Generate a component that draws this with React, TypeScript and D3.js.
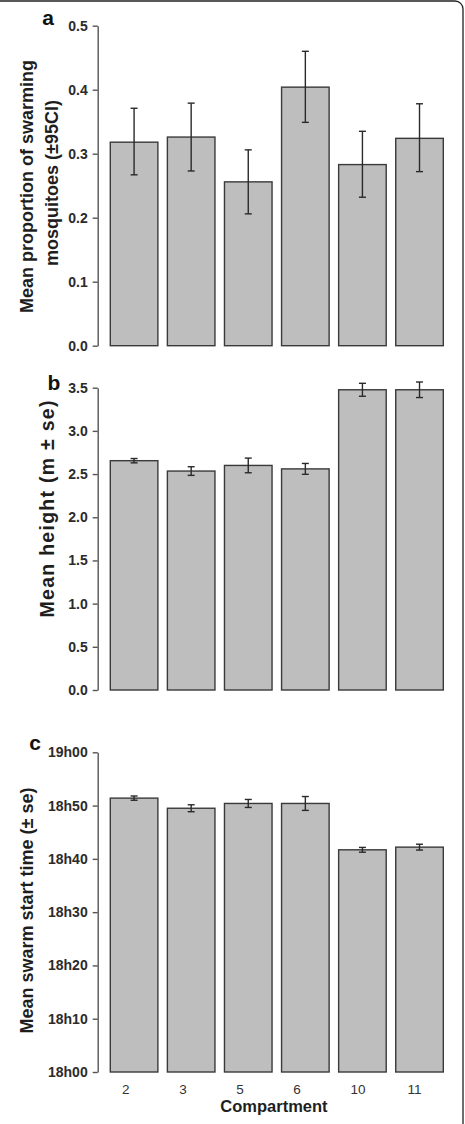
import React, { useEffect, useRef } from "react";
import * as d3 from "d3";

// compartments on the x axis
const compartments = ["2", "3", "5", "6", "10", "11"];

// a: proportion swarming, with 95% CI bounds
const propMean = [0.318, 0.326, 0.256, 0.404, 0.283, 0.324];
const propLow = [0.267, 0.273, 0.206, 0.349, 0.232, 0.272];
const propHigh = [0.371, 0.379, 0.306, 0.46, 0.335, 0.378];
const propTicks = [0, 0.1, 0.2, 0.3, 0.4, 0.5];

// b: swarm height (m), mean and standard error
const heightMean = [2.655, 2.535, 2.6, 2.56, 3.476, 3.476];
const heightSe = [0.025, 0.05, 0.085, 0.063, 0.075, 0.09];
const heightTicks = [0, 0.5, 1, 1.5, 2, 2.5, 3, 3.5];

// c: start time, in minutes after 18h00, and standard error
const startMean = [51.4, 49.5, 50.4, 50.4, 41.7, 42.2];
const startSe = [0.4, 0.65, 0.75, 1.3, 0.45, 0.55];
const startTicks = [0, 10, 20, 30, 40, 50, 60];
const startTickLabels = ["18h00", "18h10", "18h20", "18h30", "18h40", "18h50", "19h00"];

const FONT = "'Liberation Sans', Arial, Helvetica, sans-serif";

const App = () => {
  const svgRef = useRef<SVGSVGElement | null>(null);

  useEffect(() => {
    const svg = d3.select(svgRef.current);
    svg.selectAll("*").remove();

    const axisX = 97.7;
    const x = d3
      .scaleBand<string>()
      .domain(compartments)
      .range([110.3, 443.3])
      .paddingInner(1 / 6)
      .paddingOuter(0);

    // outer frame, open on the left and bottom
    svg
      .append("rect")
      .attr("x", -20)
      .attr("y", 1)
      .attr("width", 483)
      .attr("height", 1160)
      .attr("rx", 8)
      .attr("fill", "none")
      .attr("stroke", "#222")
      .attr("stroke-width", 1.3);

    const panels = [
      {
        letter: "a",
        letterPos: [48, 25],
        domain: [0, 0.5],
        range: [345.7, 25.7],
        ticks: propTicks,
        fmt: (d: number) => d3.format(".1f")(d),
        mean: propMean,
        lo: propLow,
        hi: propHigh,
        title: ["Mean proportion of swarming", "mosquitoes (\u00b195CI)"],
        titleX: [33.3, 57.5],
        titleY: [186.5, 183],
        titleSize: 18,
        titleLen: 0,
      },
      {
        letter: "b",
        letterPos: [54, 390],
        domain: [0, 3.5],
        range: [690, 387.7],
        ticks: heightTicks,
        fmt: (d: number) => d3.format(".1f")(d),
        mean: heightMean,
        lo: heightMean.map((m, i) => m - heightSe[i]),
        hi: heightMean.map((m, i) => m + heightSe[i]),
        title: ["Mean height (m \u00b1 se)"],
        titleX: [53.5],
        titleY: [509],
        titleSize: 19.5,
        titleLen: 217,
      },
      {
        letter: "c",
        letterPos: [35, 750],
        domain: [0, 60],
        range: [1072, 752.3],
        ticks: startTicks,
        fmt: (d: number) => startTickLabels[startTicks.indexOf(d)],
        mean: startMean,
        lo: startMean.map((m, i) => m - startSe[i]),
        hi: startMean.map((m, i) => m + startSe[i]),
        title: ["Mean swarm start time (\u00b1 se)"],
        titleX: [33.3],
        titleY: [910.5],
        titleSize: 18,
        titleLen: 0,
      },
    ];

    panels.forEach((p) => {
      const y = d3.scaleLinear().domain(p.domain).range(p.range);
      const g = svg.append("g");

      // bars
      g.selectAll(".bar")
        .data(p.mean)
        .join("rect")
        .attr("x", (_, i) => x(compartments[i])!)
        .attr("y", (d) => y(d))
        .attr("width", x.bandwidth())
        .attr("height", (d) => y(0) - y(d))
        .attr("fill", "#bebebe")
        .attr("stroke", "#3a3a3a")
        .attr("stroke-width", 1.4);

      // error bars
      const cap = 3.5;
      const eb = g
        .selectAll(".err")
        .data(p.mean)
        .join("g")
        .attr("stroke", "#2a2a2a")
        .attr("stroke-width", 1.4);
      eb.append("line")
        .attr("x1", (_, i) => x(compartments[i])! + x.bandwidth() / 2)
        .attr("x2", (_, i) => x(compartments[i])! + x.bandwidth() / 2)
        .attr("y1", (_, i) => y(p.lo[i]))
        .attr("y2", (_, i) => y(p.hi[i]));
      [p.lo, p.hi].forEach((arr) => {
        eb.append("line")
          .attr("x1", (_, i) => x(compartments[i])! + x.bandwidth() / 2 - cap)
          .attr("x2", (_, i) => x(compartments[i])! + x.bandwidth() / 2 + cap)
          .attr("y1", (_, i) => y(arr[i]))
          .attr("y2", (_, i) => y(arr[i]));
      });

      // y axis
      const yAxis = d3
        .axisLeft(y)
        .tickValues(p.ticks)
        .tickFormat((d) => p.fmt(d as number))
        .tickSize(5)
        .tickSizeOuter(0)
        .tickPadding(5);
      const ag = g.append("g").attr("transform", `translate(${axisX},0)`).call(yAxis);
      ag.select(".domain").attr("stroke", "#555").attr("stroke-width", 1.4);
      ag.selectAll(".tick line").attr("stroke", "#555").attr("stroke-width", 1.4);
      ag.selectAll(".tick text")
        .attr("fill", "#2b2b2b")
        .style("font-family", FONT)
        .style("font-size", "14px")
        .style("font-weight", "bold");

      // y title
      p.title.forEach((t, i) => {
        const tt = g
          .append("text")
          .attr("transform", `translate(${p.titleX[i]},${p.titleY[i]}) rotate(-90)`)
          .attr("text-anchor", "middle")
          .attr("fill", "#1e1e1e")
          .style("font-family", FONT)
          .style("font-size", `${p.titleSize}px`)
          .style("font-weight", "bold")
          .text(t);
        if (p.titleLen) tt.attr("textLength", p.titleLen).attr("lengthAdjust", "spacing");
      });

      // panel letter
      g.append("text")
        .attr("x", p.letterPos[0])
        .attr("y", p.letterPos[1])
        .attr("text-anchor", "middle")
        .attr("fill", "#111")
        .style("font-family", FONT)
        .style("font-size", "21px")
        .style("font-weight", "bold")
        .text(p.letter);
    });

    // x tick labels under the last panel
    svg
      .selectAll(".xlab")
      .data(compartments)
      .join("text")
      .attr("x", (d) => x(d)! + x.bandwidth() / 2 - 12)
      .attr("y", 1093.5)
      .attr("text-anchor", "start")
      .attr("fill", "#333")
      .style("font-family", FONT)
      .style("font-size", "13.5px")
      .text((d) => d);

    svg
      .append("text")
      .attr("x", 274)
      .attr("y", 1112)
      .attr("text-anchor", "middle")
      .attr("fill", "#1e1e1e")
      .style("font-family", FONT)
      .style("font-size", "16.5px")
      .style("font-weight", "bold")
      .text("Compartment");
  }, []);

  return (
    <svg
      ref={svgRef}
      width={465}
      height={1124}
      style={{ position: "absolute", left: 0, top: 0, display: "block", background: "#fff" }}
    />
  );
};

export default App;
